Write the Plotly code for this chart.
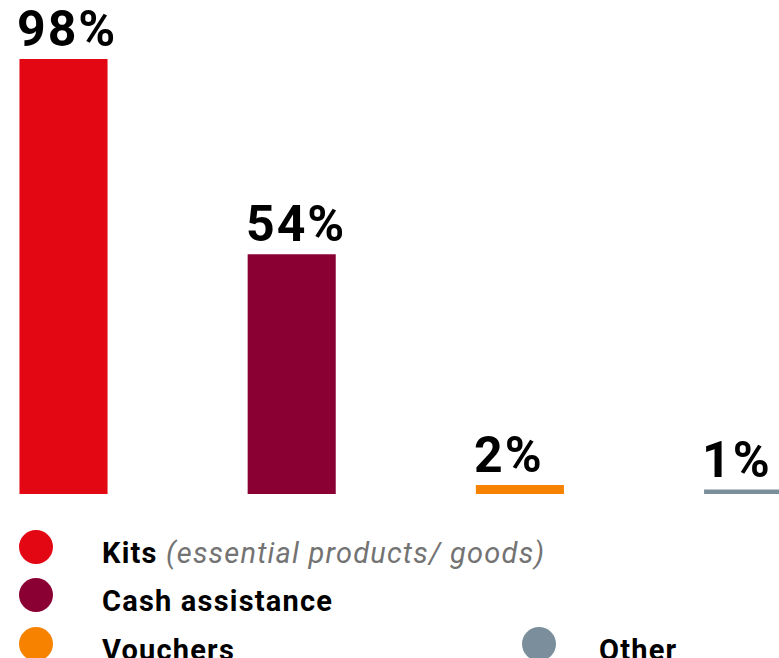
import plotly.graph_objects as go

# ---- data ----
categories = ["Kits", "Cash assistance", "Vouchers", "Other"]
values = [98, 54, 2, 1]
value_labels = ["98%", "54%", "2%", "1%"]
legend_main = ["Kits", "Cash assistance", "Vouchers", "Other"]
legend_note = [" (essential products/ goods)", "", "", ""]

# ---- styles ----
colors = ["#E30613", "#8A0033", "#F78200", "#7A8F9B"]
W, H = 779, 658
bar_width = 0.386
FONT = "Roboto"

xpos = list(range(len(categories)))

fig = go.Figure()
fig.add_trace(go.Bar(
    x=xpos, y=values, width=bar_width,
    marker=dict(color=colors, line=dict(width=0)),
    hoverinfo="skip", showlegend=False,
))

# value labels, left-aligned with bar edges
for xi, v, lab in zip(xpos, values, value_labels):
    fig.add_annotation(
        x=xi - bar_width / 2, y=v, xref="x", yref="y",
        text=f"<b><span style='letter-spacing:2px'>{lab}</span></b>", showarrow=False,
        xanchor="left", yanchor="bottom", yshift=-1, xshift=-4,
        font=dict(family=FONT, size=50, color="#000000"),
    )

# legend (custom) on a separate full-figure axis in 0..1 coordinates
leg_x_col = [36 / W, 36 / W, 36 / W, 539 / W]
leg_y_px = [547, 595, 644, 644]
leg_y = [1 - y / H for y in leg_y_px]
fig.add_trace(go.Scatter(
    x=leg_x_col, y=leg_y, mode="markers",
    marker=dict(size=34, color=colors, line=dict(width=0)),
    xaxis="x2", yaxis="y2", hoverinfo="skip", showlegend=False, cliponaxis=False,
))
text_x = [100 / W, 100 / W, 100 / W, 597 / W]
LS = "letter-spacing:1.2px"
for tx, ty, m, note in zip(text_x, leg_y, legend_main, legend_note):
    t = f"<b><span style='{LS}'>{m}</span></b>"
    if note:
        t += f"<i><span style='color:#737373;{LS}'>{note}</span></i>"
    fig.add_annotation(
        x=tx, y=ty, xref="x2", yref="y2", text=t, showarrow=False,
        xanchor="left", yanchor="middle", yshift=-6,
        font=dict(family=FONT, size=29, color="#000000"),
    )

px_per_unit = 228.2
x0 = -63.5 / px_per_unit
x1 = x0 + W / px_per_unit
base_px = 494
ppu_y = (494 - 59) / 98.0
ymax = base_px / ppu_y
dom0 = (H - base_px) / H

fig.update_layout(
    width=W, height=H,
    margin=dict(l=0, r=0, t=0, b=0),
    paper_bgcolor="white", plot_bgcolor="rgba(0,0,0,0)",
    xaxis=dict(range=[x0, x1], visible=False, domain=[0, 1], fixedrange=True, anchor="y"),
    yaxis=dict(range=[0, ymax], visible=False, domain=[dom0, 1], fixedrange=True, anchor="x"),
    xaxis2=dict(range=[0, 1], visible=False, domain=[0, 1], anchor="y2", fixedrange=True),
    yaxis2=dict(range=[0, 1], visible=False, domain=[0, 1], anchor="x2", fixedrange=True),
    showlegend=False,
)

fig.write_html("out.html", include_plotlyjs=True, config={"displayModeBar": False})
